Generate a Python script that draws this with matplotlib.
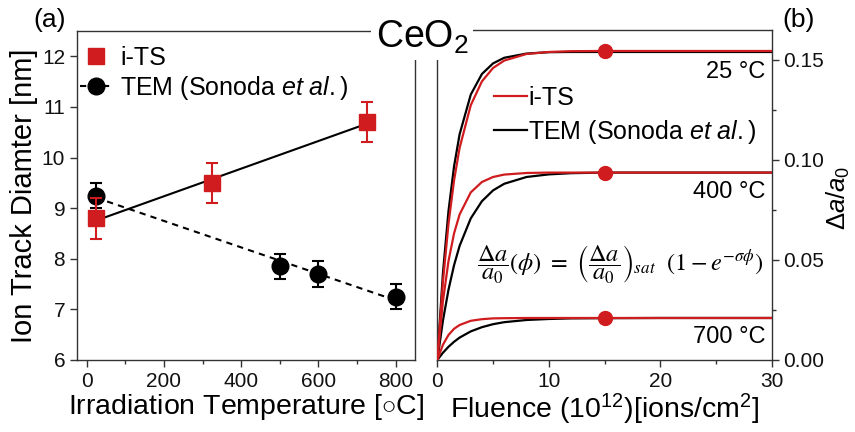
import numpy as np
import matplotlib
matplotlib.use("Agg")
import matplotlib.pyplot as plt
from matplotlib.lines import Line2D

plt.rcParams['font.family'] = ['Liberation Sans', 'DejaVu Sans']
plt.rcParams['mathtext.fontset'] = 'custom'
plt.rcParams['mathtext.rm'] = 'Liberation Sans'
plt.rcParams['mathtext.it'] = 'Liberation Sans:italic'
plt.rcParams['mathtext.bf'] = 'Liberation Sans:bold'

# ---------------- panel (a) data ----------------
its_temp = [25, 325, 725]
its_diam = [8.8, 9.5, 10.7]
its_err = [0.4, 0.4, 0.4]
tem_temp = [25, 500, 600, 800]
tem_diam = [9.25, 7.85, 7.7, 7.25]
tem_err = [0.25, 0.25, 0.25, 0.25]

# ---------------- panel (b) data ----------------
fluence = [0, 0.5, 1, 1.5, 2, 3, 4, 5, 6, 8, 10, 12, 15, 20, 30]
its_25 = [0, 0.0389, 0.0680, 0.0898, 0.1061, 0.1274, 0.1393, 0.1460, 0.1497, 0.1530, 0.1540, 0.1544, 0.1545, 0.1545, 0.1545]
tem_25 = [0, 0.0433, 0.0744, 0.0968, 0.1129, 0.1327, 0.1430, 0.1483, 0.1511, 0.1532, 0.1539, 0.1540, 0.1540, 0.1540, 0.1540]
its_400 = [0, 0.0293, 0.0494, 0.0633, 0.0728, 0.0838, 0.0890, 0.0915, 0.0927, 0.0935, 0.0937, 0.0937, 0.0937, 0.0937, 0.0937]
tem_400 = [0, 0.0196, 0.0351, 0.0474, 0.0571, 0.0708, 0.0794, 0.0848, 0.0881, 0.0915, 0.0928, 0.0934, 0.0937, 0.0937, 0.0937]
its_700 = [0, 0.0076, 0.0125, 0.0156, 0.0175, 0.0196, 0.0204, 0.0208, 0.0209, 0.0210, 0.0210, 0.0210, 0.0210, 0.0210, 0.0210]
tem_700 = [0, 0.0036, 0.0066, 0.0091, 0.0112, 0.0143, 0.0164, 0.0179, 0.0189, 0.0200, 0.0205, 0.0208, 0.0209, 0.0210, 0.0210]
dot_fluence = [15, 15, 15]
dot_values = [0.1545, 0.0937, 0.0210]
temp_labels = ['25 °C', '400 °C', '700 °C']

RED = '#d01c1f'
BLK = '#000000'
SPINE = '#333333'

fig = plt.figure(figsize=(8.55, 4.32), dpi=100)
axa = fig.add_axes([0.090, 0.1667, 0.3954, 0.7615])
axb = fig.add_axes([0.5115, 0.1667, 0.3911, 0.7639])

# ----- panel (a) -----
ca = np.polyfit(its_temp, its_diam, 1)
xa = np.array([its_temp[0], its_temp[-1]])
axa.plot(xa, np.polyval(ca, xa), color=BLK, lw=1.5, zorder=2)
ct = np.polyfit(tem_temp, tem_diam, 1)
xt = np.array([tem_temp[0], tem_temp[-1]])
axa.plot(xt, np.polyval(ct, xt), color=BLK, lw=1.5, ls=(0, (3, 2.5)), zorder=2)

axa.errorbar(tem_temp, tem_diam, yerr=tem_err, fmt='o', color=BLK, ms=12,
             ecolor=BLK, elinewidth=1.5, capsize=4, capthick=1.5, zorder=3)
axa.errorbar(its_temp, its_diam, yerr=its_err, fmt='s', color=RED, ms=11,
             ecolor=RED, elinewidth=1.5, capsize=4, capthick=1.5, zorder=4)

axa.set_xlim(-25, 850)
axa.set_ylim(6, 12.5)
axa.set_xticks([0, 200, 400, 600, 800])
axa.set_xticks([100, 300, 500, 700], minor=True)
axa.set_yticks([6, 7, 8, 9, 10, 11, 12])
axa.tick_params(axis='both', which='major', direction='out', length=5, width=1,
                labelsize=15, colors=SPINE, labelcolor='#111111')
axa.tick_params(axis='x', which='minor', direction='out', length=3, width=1, colors=SPINE)
axa.set_xlabel('Irradiation Temperature [$\\circ$C]', fontsize=20.5, labelpad=1)
axa.set_ylabel('Ion Track Diamter [nm]', fontsize=21, labelpad=3)
for s in axa.spines.values():
    s.set_color(SPINE)
    s.set_linewidth(1.0)

h1 = Line2D([], [], color=RED, marker='s', ms=11, ls='none')
h2 = Line2D([], [], color=BLK, marker='o', ms=12, ls=(0, (3, 2.5)), lw=1.5)
axa.legend([h1, h2], ['i-TS', 'TEM (Sonoda $et\\ al.$)'], loc='upper left',
           bbox_to_anchor=(-0.035, 1.0), frameon=False, fontsize=18,
           handlelength=1.3, handletextpad=0.3, labelspacing=0.15, borderaxespad=0.2)

# ----- panel (b) -----
for its, tem in [(its_25, tem_25), (its_400, tem_400), (its_700, tem_700)]:
    axb.plot(fluence, tem, color=BLK, lw=1.6, zorder=2)
    axb.plot(fluence, its, color=RED, lw=1.6, zorder=3)
axb.plot(dot_fluence, dot_values, 'o', color=RED, ms=10, zorder=5, ls='none')

label_y = [0.144, 0.084, 0.0115]
for txt, yy in zip(temp_labels, label_y):
    axb.text(29.4, yy, txt, fontsize=17, ha='right', va='center')

axb.set_xlim(0, 30)
axb.set_ylim(0, 0.165)
axb.set_xticks([0, 10, 20, 30])
axb.set_xticks([5, 15, 25], minor=True)
axb.yaxis.tick_right()
axb.yaxis.set_label_position('right')
axb.set_yticks([0.0, 0.05, 0.10, 0.15])
axb.set_yticklabels(['0.00', '0.05', '0.10', '0.15'])
axb.set_yticks([0.025, 0.075, 0.125], minor=True)
axb.tick_params(axis='both', which='major', direction='out', length=5, width=1,
                labelsize=15, colors=SPINE, labelcolor='#111111')
axb.tick_params(axis='both', which='minor', direction='out', length=3, width=1, colors=SPINE)
axb.set_xlabel('Fluence (10$^{12}$)[ions/cm$^{2}$]', fontsize=20.5, labelpad=1)
axb.set_ylabel('$\\Delta a/a_0$', fontsize=18.5)
axb.yaxis.set_label_coords(1.158, 0.49)
for s in axb.spines.values():
    s.set_color(SPINE)
    s.set_linewidth(1.0)

hb1 = Line2D([], [], color=RED, lw=1.6)
hb2 = Line2D([], [], color=BLK, lw=1.6)
axb.legend([hb1, hb2], ['i-TS', 'TEM (Sonoda $et\\ al.$)'], loc='upper left',
           bbox_to_anchor=(0.14, 0.86), frameon=False, fontsize=18,
           handlelength=1.3, handletextpad=0.05, labelspacing=0.3, borderaxespad=0.0)

axb.text(0.546, 0.29,
         r'$\dfrac{\Delta a}{a_0}(\phi)\ =\ \left(\dfrac{\Delta a}{a_0}\right)_{sat}\ \ \left(1 - e^{-\sigma\phi}\right)$',
         transform=axb.transAxes, ha='center', va='center', fontsize=17.5,
         math_fontfamily='stix')

# ----- figure texts -----
fig.text(422 / 855, 1 - 37 / 432, 'CeO$_2$', fontsize=27, ha='center', va='center',
         bbox=dict(facecolor='white', edgecolor='none', pad=3), zorder=10)
fig.text(50 / 855, 1 - 20 / 432, '(a)', fontsize=19, ha='center', va='center')
fig.text(799 / 855, 1 - 20 / 432, '(b)', fontsize=19, ha='center', va='center')

fig.savefig('out.png', dpi=100)
